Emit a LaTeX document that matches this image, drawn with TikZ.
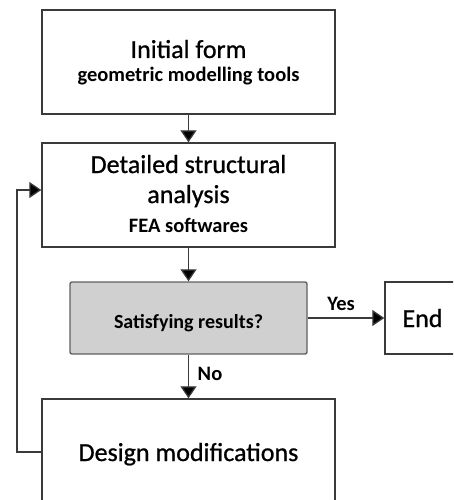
\documentclass[tikz,border=0pt]{standalone}
\usepackage{fontspec}
\setmainfont{Carlito}
\newfontfamily\heavyfont[FakeBold=0.8]{Carlito}
\usetikzlibrary{arrows.meta}
\definecolor{edge}{HTML}{3A3A3A}
\definecolor{decision}{HTML}{D0D0D0}
\begin{document}
\begin{tikzpicture}[x=1pt,y=-1pt,
  box/.style={draw=edge, line width=1.4pt, fill=white, inner sep=0pt, minimum width=293pt, minimum height=104pt},
  big/.style={font=\heavyfont\fontsize{26}{30}\selectfont, anchor=base, inner sep=0pt},
  small/.style={font=\bfseries\fontsize{20.5}{24}\selectfont, anchor=base, inner sep=0pt},
  flow/.style={draw=edge, line width=1.3pt, -{Triangle[width=16pt,length=12pt,fill=black]}}]
\useasboundingbox (0,0) rectangle (453,500);
\clip (0,0) rectangle (453,500);

% process boxes
\node[box] (init) at (188.5,62) {};
\node[big] (initT) at (188.5,58) {Initial form};
\node[small] (initS) at (188.5,82) {geometric modelling tools};

\node[box] (fea) at (188.5,195) {};
\node[big] (feaT1) at (188.5,173) {Detailed structural};
\node[big] (feaT2) at (188.5,203) {analysis};
\node[small] (feaS) at (188.5,232) {FEA softwares};

% decision
\node[box, fill=decision, draw=edge!80, rounded corners=2pt, minimum width=237pt, minimum height=72pt] (check) at (188.5,318) {};
\node[small, font=\bfseries\fontsize{20}{24}\selectfont] (checkT) at (188.5,328) {Satisfying results?};

\node[box, minimum width=75pt, minimum height=72pt] (end) at (422.5,318) {};
\node[big] (endT) at (422.5,327) {End};

\node[box, minimum height=106pt] (mod) at (188.5,452) {};
\node[big] (modT) at (188.5,461) {Design modifications};

% connectors
\draw[flow] (init.south) -- (fea.north);
\draw[flow] (fea.south) -- (check.north);
\draw[flow] (check.east) -- (end.west);
\draw[flow] (check.south) -- (mod.north);
\draw[flow] (mod.west) -- (17,452) |- ([yshift=5pt]fea.west);

% branch labels
\node[small] (yes) at (341,310) {Yes};
\node[small] (no) at (210,380) {No};
\end{tikzpicture}
\end{document}
